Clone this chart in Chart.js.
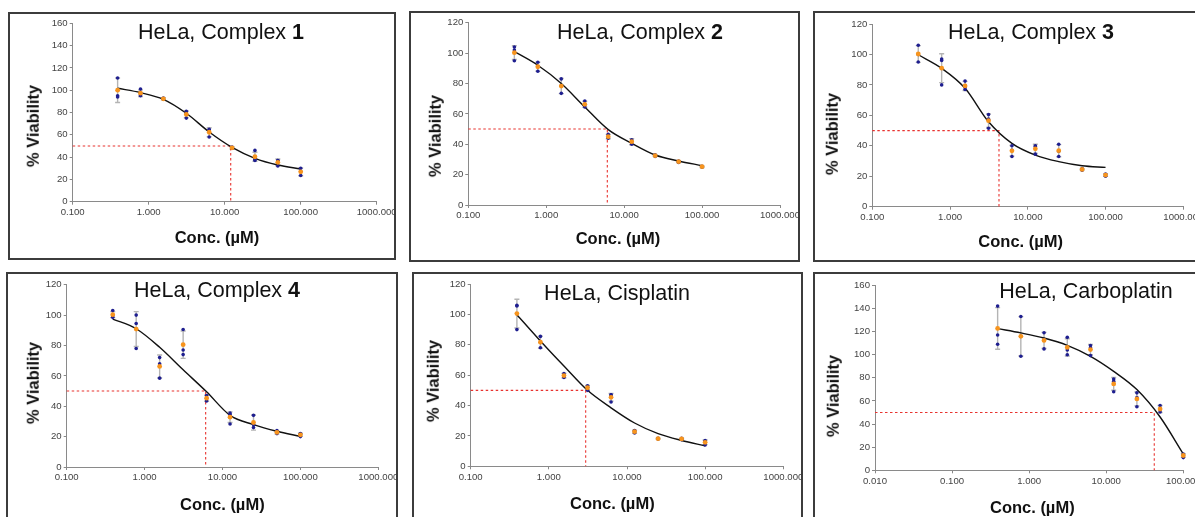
<!DOCTYPE html>
<html>
<head>
<meta charset="utf-8">
<script src="https://cdn.jsdelivr.net/npm/chart.js@4.4.1/dist/chart.umd.min.js"></script>
<style>
  html, body { margin: 0; padding: 0; background: #fff; }
  #stage { position: relative; width: 1195px; height: 517px; overflow: hidden; background: #fff; font-family: 'Liberation Sans', Arial, sans-serif; }
  .frame { position: absolute; box-sizing: border-box; border: 2px solid #3c3c3c; overflow: hidden; background: #fff; }
  .inner { position: absolute; }
  .ttl { position: absolute; font-size: 21.5px; line-height: 1; color: #111; white-space: nowrap; transform: translate(-50%, -50%); }
  .xt { position: absolute; font-size: 16.5px; font-weight: bold; line-height: 1; color: #111; white-space: nowrap; transform: translate(-50%, -50%); }
  .yt { position: absolute; font-size: 16.5px; font-weight: bold; line-height: 1; color: #111; white-space: nowrap; transform: translate(-50%, -50%) rotate(-90deg); }
</style>
</head>
<body>
<div id="stage"></div>
<script>
// ---------- DATA ----------
const conc = [0.39, 0.78, 1.56, 3.125, 6.25, 12.5, 25, 50, 100];
const xTicksMain = [0.1, 1, 10, 100, 1000];
const xLabelsMain = ['0.100', '1.000', '10.000', '100.000', '1000.000'];
const xTicksCarbo = [0.01, 0.1, 1, 10, 100];
const xLabelsCarbo = ['0.010', '0.100', '1.000', '10.000', '100.000'];
const yTicks120 = [0, 20, 40, 60, 80, 100, 120];
const yTicks160 = [0, 20, 40, 60, 80, 100, 120, 140, 160];
const panelTitles = ['HeLa, Complex ', 'HeLa, Complex ', 'HeLa, Complex ', 'HeLa, Complex ', 'HeLa, Cisplatin', 'HeLa, Carboplatin'];
const panelTitleBold = ['1', '2', '3', '4', '', ''];
const xAxisTitle = 'Conc. (µM)';
const yAxisTitle = '% Viability';

// Complex 1
const c1Rep1 = [111, 101, 93, 81, 65, 49, 46, 37, 30];
const c1Rep2 = [95, 96, 92, 79, 64, 48, 38, 37, 27];
const c1Rep3 = [94, 95, 92, 75, 58, 48, 37, 32, 23.5];
const c1Mean = [100, 97.3, 92.3, 78.3, 62.3, 48.3, 40.3, 35.3, 26.8];
const c1Err = [11, 3, 1, 3, 4, 1, 4, 3, 3.5];
const c1Fit = [101.7, 97.8, 91.8, 79.3, 62.5, 48.7, 38.9, 32.9, 29.3];
const c1IC50 = 12.0;

// Complex 2
const c2Rep1 = [104, 94, 83, 68.5, 46.5, 43, 33, 29, 25.5];
const c2Rep2 = [102, 91, 78.5, 66, 44.5, 42, 32.5, 28.5, 25];
const c2Rep3 = [95, 88, 73.5, 64.5, 44, 40, 32, 28, 25];
const c2Mean = [100.3, 91, 78.3, 66.3, 45, 41.7, 32.5, 28.5, 25.2];
const c2Err = [4.5, 3, 5, 2, 1.5, 2, 0.5, 0.5, 0.5];
const c2Fit = [101, 92, 80, 64.5, 49.6, 40.6, 32.9, 29, 25.9];
const c2IC50 = 6.08;

// Complex 3
const c3Rep1 = [106, 96, 82.5, 60.5, 40, 40, 41, 25, 21.5];
const c3Rep2 = [100, 97, 78.5, 57.5, 37, 39.5, 36.5, 24.5, 21];
const c3Rep3 = [95, 80, 77, 51.5, 33, 34.5, 33, 24, 20];
const c3Mean = [100.3, 91, 79.3, 56.5, 36.7, 38, 36.8, 24.5, 20.8];
const c3Err = [5.5, 9.5, 3, 4.5, 3.5, 3, 4, 0.5, 0.8];
const c3Fit = [99.8, 90.9, 77.8, 55.8, 41.6, 33.9, 29.6, 26.9, 25.8];
const c3IC50 = 4.26;

// Complex 4
const c4Rep1 = [103, 100, 72, 90.5, 47, 35.5, 34, 24, 22];
const c4Rep2 = [99.5, 94.5, 68, 77, 45.5, 34.5, 28, 22.5, 21.5];
const c4Rep3 = [98.5, 78, 58.5, 74, 43.5, 28.3, 26, 22, 20];
const c4Mean = [100.3, 90.8, 66.2, 80.5, 45.3, 32.8, 29.3, 22.8, 21.2];
const c4Err = [2, 11.5, 7.5, 9, 2, 3.5, 5, 1, 1];
const c4Fit = [97.4, 91, 78.8, 64, 49.5, 34, 27.9, 23.5, 20.2];
const c4IC50 = 6.08;

// Cisplatin
const cisRep1 = [106, 85.5, 61, 53, 47, 23.5, 18.5, 18.5, 17];
const cisRep2 = [105.5, 81.5, 59.5, 52, 47, 23, 18.2, 18, 16.5];
const cisRep3 = [90, 78, 58.5, 50, 42.3, 22, 18, 17.5, 14];
const cisMean = [100.5, 81.7, 59.7, 51.7, 45.4, 22.8, 18.2, 18, 15.8];
const cisErr = [9.5, 4, 1.5, 1.5, 2.5, 1, 0.3, 0.5, 1.5];
const cisFit = [99.8, 82.5, 66, 50, 38.5, 28.5, 21.5, 17, 13.5];
const cisIC50 = 2.96;

// Carboplatin
const carRep1 = [142, 133, 119, 115, 108, 79, 67, 56, 14];
const carRep2 = [117, 116, 113, 104, 106, 77, 63, 52.5, 13.5];
const carRep3 = [109, 98.6, 105, 100, 99.2, 68, 55, 50.5, 11];
const carMean = [122.7, 115.9, 112.3, 106.3, 104.4, 74.7, 61.7, 53, 12.8];
const carErr = [18, 17, 7, 7.5, 4.5, 5.5, 6, 3, 1.5];
const carFit = [122.5, 118.8, 114.4, 108.1, 98.6, 85.6, 69.8, 46.1, 14.1];
const carIC50 = 42;

const halfLevel = 50;

// ---------- LAYOUT (page coordinates) ----------
const panels = [
  { frame: [8, 12, 388, 248], plot: [72.7, 376.7, 23.3, 201.7], yTicks: yTicks160, xTicks: xTicksMain, xLabels: xLabelsMain,
    reps: [c1Rep1, c1Rep2, c1Rep3], mean: c1Mean, err: c1Err, fit: c1Fit, ic50: c1IC50,
    title: [221, 32.5], xt: [217, 237], yt: [33, 126] },
  { frame: [409, 11, 391, 251], plot: [468.3, 780, 22.7, 205], yTicks: yTicks120, xTicks: xTicksMain, xLabels: xLabelsMain,
    reps: [c2Rep1, c2Rep2, c2Rep3], mean: c2Mean, err: c2Err, fit: c2Fit, ic50: c2IC50,
    title: [640, 32.5], xt: [618, 238.3], yt: [435, 135.7] },
  { frame: [813, 11, 400, 251], plot: [872.3, 1183.3, 24, 206.7], yTicks: yTicks120, xTicks: xTicksMain, xLabels: xLabelsMain,
    reps: [c3Rep1, c3Rep2, c3Rep3], mean: c3Mean, err: c3Err, fit: c3Fit, ic50: c3IC50,
    title: [1031, 33], xt: [1020.7, 240.7], yt: [832.3, 134] },
  { frame: [6, 272, 392, 260], plot: [66.7, 378.3, 284.7, 467], yTicks: yTicks120, xTicks: xTicksMain, xLabels: xLabelsMain,
    reps: [c4Rep1, c4Rep2, c4Rep3], mean: c4Mean, err: c4Err, fit: c4Fit, ic50: c4IC50,
    title: [217, 291], xt: [222.3, 504], yt: [33.3, 383] },
  { frame: [412, 272, 391, 260], plot: [470.7, 783.3, 284, 466.3], yTicks: yTicks120, xTicks: xTicksMain, xLabels: xLabelsMain,
    reps: [cisRep1, cisRep2, cisRep3], mean: cisMean, err: cisErr, fit: cisFit, ic50: cisIC50,
    title: [617, 294], xt: [612.3, 503], yt: [432.7, 381.3] },
  { frame: [813, 272, 400, 260], plot: [875, 1183.3, 285.3, 470.3], yTicks: yTicks160, xTicks: xTicksCarbo, xLabels: xLabelsCarbo,
    reps: [carRep1, carRep2, carRep3], mean: carMean, err: carErr, fit: carFit, ic50: carIC50,
    title: [1086, 292], xt: [1032.3, 507.3], yt: [832.7, 396.3] }
];

const OX = 40, OY = 40, CW = 1280, CH = 600, YW = 30, XH = 20, BORDER = 2;
const FONT = "'Liberation Sans', Arial, sans-serif";

const errorBarPlugin = {
  id: 'errorBars',
  beforeDatasetsDraw(chart, args, opts) {
    const ctx = chart.ctx, xs = chart.scales.x, ys = chart.scales.y;
    ctx.save();
    ctx.strokeStyle = opts.color;
    ctx.lineWidth = opts.width;
    opts.xv.forEach((xv, i) => {
      const px = xs.getPixelForValue(xv);
      const top = ys.getPixelForValue(opts.mean[i] + opts.err[i]);
      const bot = ys.getPixelForValue(opts.mean[i] - opts.err[i]);
      ctx.beginPath();
      ctx.moveTo(px, top); ctx.lineTo(px, bot);
      ctx.moveTo(px - opts.cap, top); ctx.lineTo(px + opts.cap, top);
      ctx.moveTo(px - opts.cap, bot); ctx.lineTo(px + opts.cap, bot);
      ctx.stroke();
    });
    ctx.restore();
  }
};

const stage = document.getElementById('stage');

panels.forEach((p, idx) => {
  const [fl, ft, fw, fh] = p.frame;
  const frame = document.createElement('div');
  frame.className = 'frame';
  Object.assign(frame.style, { left: fl + 'px', top: ft + 'px', width: fw + 'px', height: fh + 'px' });
  const inner = document.createElement('div');
  inner.className = 'inner';
  Object.assign(inner.style, { left: (-OX - fl - BORDER) + 'px', top: (-OY - ft - BORDER) + 'px', width: CW + 'px', height: CH + 'px' });
  const canvas = document.createElement('canvas');
  canvas.width = CW; canvas.height = CH;
  canvas.style.width = CW + 'px'; canvas.style.height = CH + 'px';
  inner.appendChild(canvas);
  frame.appendChild(inner);
  stage.appendChild(frame);

  const [L, R, T, B] = p.plot;
  const xMin = p.xTicks[0], xMax = p.xTicks[p.xTicks.length - 1];
  const yMax = p.yTicks[p.yTicks.length - 1];

  const repData = [];
  p.reps.forEach(r => r.forEach((v, i) => repData.push({ x: conc[i], y: v })));

  new Chart(canvas, {
    type: 'scatter',
    data: {
      datasets: [
        { label: 'mean', data: conc.map((c, i) => ({ x: c, y: p.mean[i] })), order: 0,
          pointRadius: 2.4, pointBackgroundColor: '#f7941d', pointBorderWidth: 0, showLine: false, clip: false },
        { label: 'replicates', data: repData, order: 1,
          pointRadius: 1.8, pointBackgroundColor: '#1e1e8f', pointBorderWidth: 0, showLine: false, clip: false },
        { type: 'line', label: 'fit', data: conc.map((c, i) => ({ x: c, y: p.fit[i] })), order: 2,
          borderColor: '#111', borderWidth: 1.4, pointRadius: 0, cubicInterpolationMode: 'monotone', fill: false, clip: false },
        { type: 'line', label: 'IC50', data: [{ x: xMin, y: halfLevel }, { x: p.ic50, y: halfLevel }, { x: p.ic50, y: 0 }], order: 3,
          borderColor: '#e8332f', borderWidth: 1.1, borderDash: [2.5, 2.5], pointRadius: 0, tension: 0, fill: false, clip: false }
      ]
    },
    options: {
      responsive: false,
      animation: false,
      devicePixelRatio: 1,
      layout: { padding: { left: L + OX - YW, top: T + OY, right: CW - (R + OX), bottom: CH - (B + OY) - XH } },
      plugins: {
        legend: { display: false },
        tooltip: { enabled: false },
        errorBars: { xv: conc, mean: p.mean, err: p.err, color: '#b4b4b4', width: 1.4, cap: 2.5 }
      },
      scales: {
        x: {
          type: 'logarithmic', min: xMin, max: xMax,
          afterBuildTicks: s => { s.ticks = p.xTicks.map(v => ({ value: v })); },
          afterFit: s => { s.height = XH; },
          ticks: { callback: (v, i) => p.xLabels[i], autoSkip: false, maxRotation: 0, minRotation: 0,
                   font: { family: FONT, size: 9.6 }, color: '#444', padding: 2 },
          grid: { drawOnChartArea: false, drawTicks: true, tickLength: 3, color: '#888' },
          border: { display: true, color: '#8a8a8a', width: 1 }
        },
        y: {
          type: 'linear', min: 0, max: yMax,
          afterBuildTicks: s => { s.ticks = p.yTicks.map(v => ({ value: v })); },
          afterFit: s => { s.width = YW; },
          ticks: { autoSkip: false, font: { family: FONT, size: 9.6 }, color: '#444', padding: 2 },
          grid: { drawOnChartArea: false, drawTicks: true, tickLength: 3, color: '#888' },
          border: { display: true, color: '#8a8a8a', width: 1 }
        }
      }
    },
    plugins: [errorBarPlugin]
  });

  const t = document.createElement('div');
  t.className = 'ttl';
  t.style.left = p.title[0] + 'px'; t.style.top = p.title[1] + 'px';
  t.appendChild(document.createTextNode(panelTitles[idx]));
  if (panelTitleBold[idx]) { const b = document.createElement('b'); b.textContent = panelTitleBold[idx]; t.appendChild(b); }
  stage.appendChild(t);

  const xt = document.createElement('div');
  xt.className = 'xt'; xt.textContent = xAxisTitle;
  xt.style.left = p.xt[0] + 'px'; xt.style.top = p.xt[1] + 'px';
  stage.appendChild(xt);

  const yt = document.createElement('div');
  yt.className = 'yt'; yt.textContent = yAxisTitle;
  yt.style.left = p.yt[0] + 'px'; yt.style.top = p.yt[1] + 'px';
  stage.appendChild(yt);
});
</script>
</body>
</html>
